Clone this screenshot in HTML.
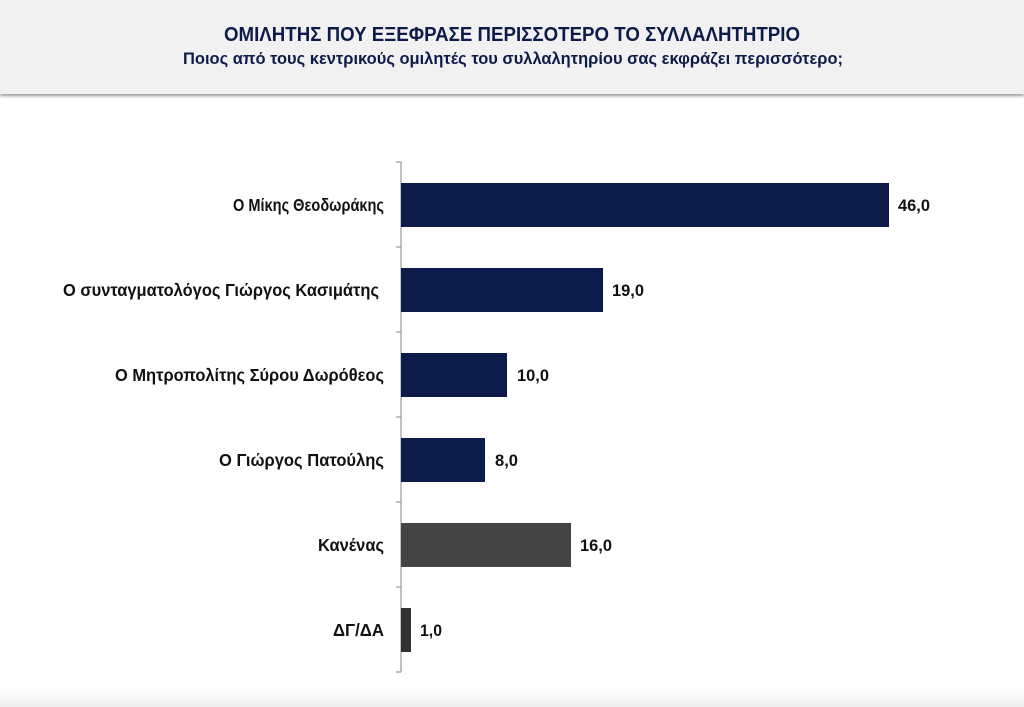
<!DOCTYPE html>
<html><head><meta charset="utf-8"><style>
body{margin:0;width:1024px;height:707px;background:#fff;position:relative;overflow:hidden;font-family:"Liberation Sans",sans-serif}
.hdr{position:absolute;left:0;top:0;width:1024px;height:94px;background:#f1f1f1;box-shadow:0 2px 3px #999;}
.bot{position:absolute;left:0;top:690px;width:1024px;height:17px;background:linear-gradient(#fff,#eee)}
</style></head><body>
<div class="hdr"></div>
<div class="bot"></div>
<svg width="1024" height="707" style="position:absolute;left:0;top:0" font-family="Liberation Sans" font-weight="bold" font-size="17">
<text x="512" y="41" text-anchor="middle" fill="#0d1b4b" font-size="20" textLength="576" lengthAdjust="spacingAndGlyphs">ΟΜΙΛΗΤΗΣ ΠΟΥ ΕΞΕΦΡΑΣΕ ΠΕΡΙΣΣΟΤΕΡΟ ΤΟ ΣΥΛΛΑΛΗΤΗΤΡΙΟ</text>
<text x="513" y="64" text-anchor="middle" fill="#0d1b4b" font-size="17" textLength="660" lengthAdjust="spacingAndGlyphs">Ποιος από τους κεντρικούς ομιλητές του συλλαλητηρίου σας εκφράζει περισσότερο;</text>
<g stroke="#999" stroke-width="1.2">
<line x1="401" y1="162" x2="401" y2="672"/>
<line x1="396" y1="162" x2="401" y2="162"/><line x1="396" y1="247" x2="401" y2="247"/>
<line x1="396" y1="332" x2="401" y2="332"/><line x1="396" y1="417" x2="401" y2="417"/>
<line x1="396" y1="502" x2="401" y2="502"/><line x1="396" y1="587" x2="401" y2="587"/>
<line x1="396" y1="672" x2="401" y2="672"/>
</g>
<rect x="401" y="183" width="488" height="44" fill="#0d1b4b"/>
<rect x="401" y="268" width="202" height="44" fill="#0d1b4b"/>
<rect x="401" y="353" width="106" height="44" fill="#0d1b4b"/>
<rect x="401" y="438" width="84" height="44" fill="#0d1b4b"/>
<rect x="401" y="523" width="170" height="44" fill="#444"/>
<rect x="401" y="608" width="10" height="44" fill="#333"/>
<g fill="#111">
<text x="898" y="211" textLength="32" lengthAdjust="spacingAndGlyphs">46,0</text>
<text x="612" y="296" textLength="32" lengthAdjust="spacingAndGlyphs">19,0</text>
<text x="517" y="381" textLength="32" lengthAdjust="spacingAndGlyphs">10,0</text>
<text x="495" y="466" textLength="23" lengthAdjust="spacingAndGlyphs">8,0</text>
<text x="580" y="551" textLength="32" lengthAdjust="spacingAndGlyphs">16,0</text>
<text x="420" y="636" textLength="22" lengthAdjust="spacingAndGlyphs">1,0</text>
</g>
<g fill="#111" font-size="17.5">
<text x="233" y="211" textLength="151" lengthAdjust="spacingAndGlyphs">Ο Μίκης Θεοδωράκης</text>
<text x="63" y="296" textLength="316" lengthAdjust="spacingAndGlyphs">Ο συνταγματολόγος Γιώργος Κασιμάτης</text>
<text x="115" y="381" textLength="269" lengthAdjust="spacingAndGlyphs">Ο Μητροπολίτης Σύρου Δωρόθεος</text>
<text x="219" y="466" textLength="165" lengthAdjust="spacingAndGlyphs">Ο Γιώργος Πατούλης</text>
<text x="318" y="551" textLength="66" lengthAdjust="spacingAndGlyphs">Κανένας</text>
<text x="333" y="636" textLength="51" lengthAdjust="spacingAndGlyphs">ΔΓ/ΔΑ</text>
</g>
</svg>
</body></html>
